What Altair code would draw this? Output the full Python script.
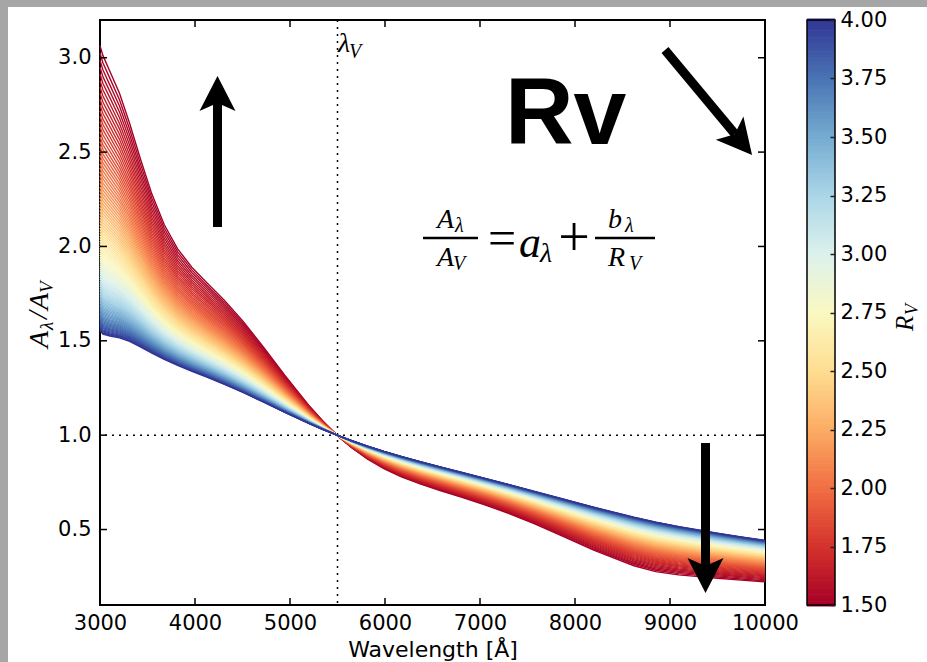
import altair as alt
import pandas as pd

# ---------------- data ----------------
# wavelength grid [Angstrom] and the coefficients a_lambda, b_lambda of the
# relation drawn in the chart: A_lambda/A_V = a_lambda + b_lambda / R_V
WAVELENGTH = [3000.0, 3030.3, 3105.6, 3205.1, 3311.3, 3424.7, 3546.1, 3676.5,
              3816.8, 3968.3, 4132.2, 4310.3, 4504.5, 4717.0, 4950.5, 5208.3,
              5347.6, 5494.5, 5649.7, 5814.0, 5988.0, 6172.8, 6369.4, 6578.9,
              6802.7, 7042.3, 7299.3, 7575.8, 7874.0, 8196.7, 8620.7, 8849.6,
              9090.9, 9300.0, 9500.0, 9750.0, 10000.0]
A_LAMBDA = [0.6498, 0.6494, 0.6855, 0.7381, 0.8026, 0.8703, 0.9300, 0.9737,
            0.9990, 1.0083, 1.0074, 1.0027, 0.9995, 1.0001, 1.0033, 1.0051,
            1.0038, 1.0000, 0.9932, 0.9829, 0.9690, 0.9515, 0.9308, 0.9075,
            0.8823, 0.8564, 0.8305, 0.8051, 0.7803, 0.7547, 0.7191, 0.6966,
            0.6692, 0.6452, 0.6234, 0.5979, 0.5740]
B_LAMBDA = [3.6219, 3.5445, 3.3608, 3.1100, 2.7758, 2.3919, 2.0210, 1.7119,
            1.4826, 1.3209, 1.1948, 1.0667, 0.9070, 0.7038, 0.4658, 0.2196,
            0.1043, 0.0000, -0.0899, -0.1630, -0.2187, -0.2580, -0.2839, -0.3012,
            -0.3163, -0.3359, -0.3667, -0.4131, -0.4752, -0.5460, -0.6165, -0.6292,
            -0.6144, -0.5923, -0.5724, -0.5489, -0.5270]
RV_VALUES = [round(1.5 + 0.025 * i, 3) for i in range(101)]      # one curve each
CBAR_RV = [round(1.5 + 0.01 * i, 2) for i in range(251)]         # colour bar steps
X_TICKS = [3000, 4000, 5000, 6000, 7000, 8000, 9000, 10000]
Y_TICKS = [0.5, 1.0, 1.5, 2.0, 2.5, 3.0]
CBAR_TICKS = [1.5, 1.75, 2.0, 2.25, 2.5, 2.75, 3.0, 3.25, 3.5, 3.75, 4.0]
LAMBDA_V = [5500]
REF_LEVEL = [1.0]

W, H = 665, 585
PAD = {"left": 100, "top": 20, "right": 162, "bottom": 57}
SERIF = "Liberation Serif"
SANS = "DejaVu Sans"
TICK_FS = 21

rows = []
for rv in RV_VALUES:
    for wl, a, b in zip(WAVELENGTH, A_LAMBDA, B_LAMBDA):
        rows.append({"rv": rv, "wl": wl, "val": a + b / rv})
curves_df = pd.DataFrame(rows)

xscale = alt.Scale(domain=[3000, 10000], nice=False, zero=False)
yscale = alt.Scale(domain=[0.1, 3.2], nice=False, zero=False)
cscale = alt.Scale(scheme="redyellowblue", domain=[1.5, 4.0])

X = alt.X("wl:Q", scale=xscale,
          axis=alt.Axis(orient="bottom", values=X_TICKS, format="d", tickSize=0,
                        domain=False, grid=False, labelFont=SANS, labelFontSize=TICK_FS,
                        labelColor="black", labelPadding=7, labelFlush=False,
                        labelOverlap=False,
                        title="Wavelength [Å]", titleFont=SANS, titleFontSize=22,
                        titleFontWeight="normal", titleColor="black", titlePadding=6))
Y = alt.Y("val:Q", scale=yscale,
          axis=alt.Axis(orient="left", values=Y_TICKS, format=".1f", tickSize=0,
                        domain=False, grid=False, labelFont=SANS, labelFontSize=TICK_FS,
                        labelColor="black", labelPadding=9, labelFlush=False, title=""))
COLOR = alt.Color("rv:Q", scale=cscale, legend=None)

one = pd.DataFrame({"k": [0]})


def dtext(s, wl, val, size, font=SERIF, style="italic", weight="normal", align="left"):
    df = pd.DataFrame({"wl": [wl], "val": [val], "t": [s]})
    return alt.Chart(df).mark_text(font=font, fontSize=size, fontStyle=style,
                                   fontWeight=weight, align=align,
                                   baseline="alphabetic", color="black").encode(
        x=X, y=Y, text="t:N")


def ptext(s, px, py, size, angle=0, font=SERIF, style="italic", align="left"):
    df = pd.DataFrame({"t": [s]})
    return alt.Chart(df).mark_text(font=font, fontSize=size, fontStyle=style,
                                   align=align, baseline="alphabetic",
                                   color="black", angle=angle).encode(
        x=alt.value(px - PAD["left"]), y=alt.value(py - PAD["top"]), text="t:N")


def hbar(wl1, wl2, val):
    df = pd.DataFrame({"wl": [wl1], "wl2": [wl2], "val": [val]})
    return alt.Chart(df).mark_rule(color="black", strokeWidth=2.4).encode(
        x=X, x2="wl2:Q", y=Y)


ARROW_PATH = "M0,-1L1,0.94L0,0.5L-1,0.94Z"


def arrow(wl1, val1, wl2, val2, hwl, hval, ang):
    shaft = alt.Chart(pd.DataFrame({"wl": [wl1], "val": [val1], "wl2": [wl2], "val2": [val2]})
                      ).mark_rule(color="black", strokeWidth=9, strokeCap="butt").encode(
        x=X, y=Y, x2="wl2:Q", y2="val2:Q")
    head = alt.Chart(pd.DataFrame({"wl": [hwl], "val": [hval]})).mark_point(
        shape=ARROW_PATH, filled=True, color="black", opacity=1, size=1296,
        angle=ang, strokeWidth=0).encode(x=X, y=Y)
    return [shaft, head]


# grey frame of the slide
grey_left = alt.Chart(one).mark_rect(color="#a6a6a6").encode(
    x=alt.value(-PAD["left"]), x2=alt.value(-PAD["left"] + 8),
    y=alt.value(-PAD["top"]), y2=alt.value(H + PAD["bottom"]))
grey_top = alt.Chart(one).mark_rect(color="#a6a6a6").encode(
    x=alt.value(-PAD["left"]), x2=alt.value(W + PAD["right"]),
    y=alt.value(-PAD["top"]), y2=alt.value(-PAD["top"] + 7))

vline = alt.Chart(pd.DataFrame({"wl": LAMBDA_V})).mark_rule(
    color="black", strokeWidth=1.5, strokeDash=[2, 5]).encode(x=X)
hline = alt.Chart(pd.DataFrame({"val": REF_LEVEL})).mark_rule(
    color="black", strokeWidth=1.5, strokeDash=[2, 5]).encode(y=Y)

curves = alt.Chart(curves_df).mark_line(strokeWidth=1.4).encode(
    x=X, y=Y, color=COLOR, detail="rv:Q", order="wl:Q")

# inward ticks on all four sides
xt = pd.DataFrame({"wl": X_TICKS})
yt = pd.DataFrame({"val": Y_TICKS})
tb = alt.Chart(xt).mark_rule(color="black", strokeWidth=1.5).encode(
    x=X, y=alt.value(H), y2=alt.value(H - 7))
tt = alt.Chart(xt).mark_rule(color="black", strokeWidth=1.5).encode(
    x=X, y=alt.value(0), y2=alt.value(7))
tl = alt.Chart(yt).mark_rule(color="black", strokeWidth=1.5).encode(
    y=Y, x=alt.value(0), x2=alt.value(7))
tr = alt.Chart(yt).mark_rule(color="black", strokeWidth=1.5).encode(
    y=Y, x=alt.value(W), x2=alt.value(W - 7))

annotations = [
    # lambda_V label
    dtext("λ", 5505.3, 3.0304, 28),
    dtext("V", 5621.1, 2.9986, 20),
    # big Rv
    dtext("Rv", 7263.2, 2.5429, 95, font="Liberation Sans", style="normal", weight="bold"),
    # equation A_lambda / A_V = a_lambda + b_lambda / R_V
    hbar(6400.0, 6978.9, 2.0448),
    dtext("A", 6547.4, 2.0978, 28),
    dtext("λ", 6736.8, 2.0766, 20),
    dtext("A", 6547.4, 1.8964, 28),
    dtext("V", 6715.8, 1.8752, 20),
    dtext("=", 7231.6, 1.9547, 50, style="normal", align="center"),
    dtext("a", 7410.5, 1.9441, 44),
    dtext("λ", 7631.6, 1.9176, 28),
    dtext("+", 7989.5, 1.9494, 56, style="normal", align="center"),
    hbar(8210.5, 8842.1, 2.0448),
    dtext("b", 8347.4, 2.0978, 28),
    dtext("λ", 8526.3, 2.0766, 20),
    dtext("R", 8347.4, 1.8964, 28),
    dtext("V", 8568.4, 1.8752, 20),
]
arrows = (arrow(4236.8, 2.1031, 4236.8, 2.7761, 4236.8, 2.8079, 0)
          + arrow(9373.7, 0.9585, 9373.7, 0.2855, 9373.7, 0.2590, 180)
          + arrow(8947.4, 3.0410, 9684.2, 2.5959, 9742.1, 2.5583, 140))

# axis titles built from pieces (sub-scripts)
ytitle = [
    ptext("A", 48, 348, 28, angle=270),
    ptext("λ", 53, 330, 19, angle=270),
    ptext("/", 47, 319, 28, angle=270),
    ptext("A", 48, 310, 28, angle=270),
    ptext("V", 53, 293, 19, angle=270),
]
ctitle = [
    ptext("R", 913, 331, 25, angle=270),
    ptext("V", 918, 315, 18, angle=270),
]

main = alt.layer(grey_left, grey_top, vline, hline, curves, tb, tt, tl, tr,
                 *arrows, *annotations, *ytitle, *ctitle)

# colour bar
CB_X0, CB_X1 = 707, 735
cbar_y = alt.Y("rv:Q", scale=alt.Scale(domain=[1.5, 4.0], nice=False, zero=False),
               axis=alt.Axis(orient="right", offset=CB_X1 - W - 5, values=CBAR_TICKS,
                             format=".2f", tickSize=5, tickWidth=1.5, tickColor="#222222",
                             domain=False, grid=False, labelFont=SANS, labelFontSize=TICK_FS,
                             labelColor="black", labelPadding=5, labelFlush=False,
                             title="", zindex=1))
grad = alt.Chart(pd.DataFrame({"rv": CBAR_RV})).mark_rule(strokeWidth=3).encode(
    x=alt.value(CB_X0), x2=alt.value(CB_X1), y=cbar_y, color=COLOR)
border = alt.Chart(one).mark_rect(fillOpacity=0, stroke="black", strokeWidth=1.5).encode(
    x=alt.value(CB_X0), x2=alt.value(CB_X1), y=alt.value(0), y2=alt.value(H))
cbar = alt.layer(grad, border)

chart = alt.layer(main, cbar).resolve_scale(y="independent").properties(
    width=W, height=H, padding=PAD,
    autosize=alt.AutoSizeParams(type="none"), background="white"
).configure_view(stroke="black", strokeWidth=2)

chart.save("out.html", embed_options={"renderer": "svg", "actions": False})
